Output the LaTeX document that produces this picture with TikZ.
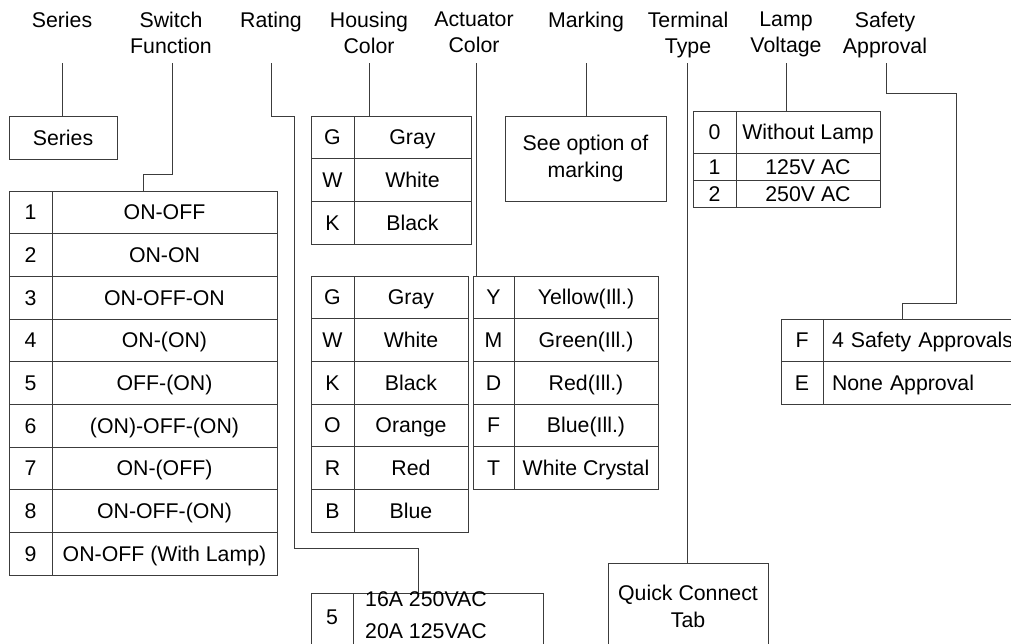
\documentclass[tikz,border=0pt]{standalone}
\usepackage{fontspec}
\setmainfont{Liberation Sans}
\usepackage{tikz}
\usepackage{xcolor}
\definecolor{linegray}{HTML}{3C3C3C}
\tikzset{
  wire/.style={draw=linegray,line width=1pt},
  cell/.style={draw=linegray,line width=1pt,anchor=north west,inner sep=0pt,outer sep=0pt},
  row/.style={cell,minimum height=42.67,text height=15pt,text depth=0pt},
  head/.style={anchor=north,inner sep=0pt,align=center},
  boxtext/.style={inner sep=0pt,align=center},
  keycol/.style={row,minimum width=43},
}

\begin{document}
\begin{tikzpicture}[x=1pt,y=-1pt,font=\fontsize{21.3}{25.5}\selectfont]
\useasboundingbox (0,0) rectangle (1011,643);
\clip (0,0) rectangle (1011,643);
\node[head] (hSeries) at (62,12) {Series};
\node[head] (hSwitch) at (171,12) {Switch\\Function};
\node[head] (hRating) at (271,12) {Rating};
\node[head] (hHousing) at (369,12) {Housing\\Color};
\node[head] (hActuator) at (474,12) {Actuator\\Color};
\node[head] (hMarking) at (586,12) {Marking};
\node[head] (hTerminal) at (688,12) {Terminal\\Type};
\node[head] (hLamp) at (786,12) {Lamp\\Voltage};
\node[head] (hSafety) at (885,12) {Safety\\Approval};
\coordinate (fSeries) at (62,63);
\coordinate (fSwitch) at (172,63);
\coordinate (fRating) at (271,63);
\coordinate (fHousing) at (369,63);
\coordinate (fActuator) at (476,63);
\coordinate (fMarking) at (586,63);
\coordinate (fTerminal) at (687,63);
\coordinate (fLamp) at (786,63);
\coordinate (fSafety) at (886,63);
\node[row,minimum width=108,minimum height=43] (srBox) at (9,116) {Series};
\node[keycol] (swK1) at (9,191) {1};
\node[row,minimum width=225] (swV1) at (52,191) {ON-OFF};
\node[keycol] (swK2) at (9,233.67) {2};
\node[row,minimum width=225] (swV2) at (52,233.67) {ON-ON};
\node[keycol] (swK3) at (9,276.33) {3};
\node[row,minimum width=225] (swV3) at (52,276.33) {ON-OFF-ON};
\node[keycol] (swK4) at (9,319) {4};
\node[row,minimum width=225] (swV4) at (52,319) {ON-(ON)};
\node[keycol] (swK5) at (9,361.67) {5};
\node[row,minimum width=225] (swV5) at (52,361.67) {OFF-(ON)};
\node[keycol] (swK6) at (9,404.33) {6};
\node[row,minimum width=225] (swV6) at (52,404.33) {(ON)-OFF-(ON)};
\node[keycol] (swK7) at (9,447) {7};
\node[row,minimum width=225] (swV7) at (52,447) {ON-(OFF)};
\node[keycol] (swK8) at (9,489.67) {8};
\node[row,minimum width=225] (swV8) at (52,489.67) {ON-OFF-(ON)};
\node[keycol] (swK9) at (9,532.33) {9};
\node[row,minimum width=225] (swV9) at (52,532.33) {ON-OFF (With Lamp)};
\coordinate (swTop) at (143,191);
\node[row,minimum width=42,minimum height=70] (rtK) at (311,593) {};
\node[row,minimum width=190,minimum height=70] (rtV) at (353,593) {};
\node[boxtext] (rtKtxt) at (332,617) {5};
\node[boxtext,align=left,anchor=west] (rtVtxt) at (365,615) {16A 250VAC\\[7pt]20A 125VAC};
\coordinate (rtTop) at (418,593);
\node[keycol] (hsKG) at (311,116) {G};
\node[row,minimum width=117] (hsG) at (354,116) {Gray};
\node[keycol] (hsKW) at (311,158.67) {W};
\node[row,minimum width=117] (hsW) at (354,158.67) {White};
\node[keycol] (hsKK) at (311,201.33) {K};
\node[row,minimum width=117] (hsK) at (354,201.33) {Black};
\node[keycol] (acKG) at (311,276) {G};
\node[row,minimum width=114] (acG) at (354,276) {Gray};
\node[keycol] (acKW) at (311,318.67) {W};
\node[row,minimum width=114] (acW) at (354,318.67) {White};
\node[keycol] (acKK) at (311,361.33) {K};
\node[row,minimum width=114] (acK) at (354,361.33) {Black};
\node[keycol] (acKO) at (311,404) {O};
\node[row,minimum width=114] (acO) at (354,404) {Orange};
\node[keycol] (acKR) at (311,446.67) {R};
\node[row,minimum width=114] (acR) at (354,446.67) {Red};
\node[keycol] (acKB) at (311,489.33) {B};
\node[row,minimum width=114] (acB) at (354,489.33) {Blue};
\node[row,minimum width=41] (acKY) at (473,276) {Y};
\node[row,minimum width=144] (acY) at (514,276) {Yellow(Ill.)};
\node[row,minimum width=41] (acKM) at (473,318.67) {M};
\node[row,minimum width=144] (acM) at (514,318.67) {Green(Ill.)};
\node[row,minimum width=41] (acKD) at (473,361.33) {D};
\node[row,minimum width=144] (acD) at (514,361.33) {Red(Ill.)};
\node[row,minimum width=41] (acKF) at (473,404) {F};
\node[row,minimum width=144] (acF) at (514,404) {Blue(Ill.)};
\node[row,minimum width=41] (acKT) at (473,446.67) {T};
\node[row,minimum width=144] (acT) at (514,446.67) {White Crystal};
\node[cell,minimum width=161,minimum height=85,align=center] (mkBox) at (505,116) {See option of\\[1.5pt]marking};
\node[cell,minimum width=160,minimum height=100] (qcBox) at (608,563) {};
\node[boxtext] (qcTxt) at (688,606) {Quick Connect\\[1.5pt]Tab};
\node[row,minimum width=43,minimum height=42] (lpK0) at (693,111) {0};
\node[row,minimum width=144,minimum height=42] (lpV0) at (736,111) {Without Lamp};
\node[row,minimum width=43,minimum height=27] (lpK1) at (693,153) {1};
\node[row,minimum width=144,minimum height=27] (lpV1) at (736,153) {125V AC};
\node[row,minimum width=43,minimum height=27] (lpK2) at (693,180) {2};
\node[row,minimum width=144,minimum height=27] (lpV2) at (736,180) {250V AC};
\node[row,minimum width=42] (saKF) at (781,319) {F};
\node[row,text width=222,inner xsep=9pt,align=left] (saF) at (823,319) {4 Safety Approvals};
\node[row,minimum width=42] (saKE) at (781,361.67) {E};
\node[row,text width=222,inner xsep=9pt,align=left] (saE) at (823,361.67) {None Approval};
\coordinate (saTop) at (902,319);
\draw[wire] (fSeries) -- (fSeries |- srBox.north);
\draw[wire] (fSwitch) -- ++(0,111) -| (swTop);
\draw[wire] (fRating) -- ++(0,53) -- ++(23,0) -- ++(0,432) -| (rtTop);
\draw[wire] (fHousing) -- (fHousing |- hsG.north);
\draw[wire] (fActuator) -- (fActuator |- acKY.north);
\draw[wire] (fMarking) -- (fMarking |- mkBox.north);
\draw[wire] (fTerminal) -- (fTerminal |- qcBox.north);
\draw[wire] (fLamp) -- (fLamp |- lpV0.north);
\draw[wire] (fSafety) -- ++(0,30) -| ++(70,210) -| (saTop);
\end{tikzpicture}
\end{document}
